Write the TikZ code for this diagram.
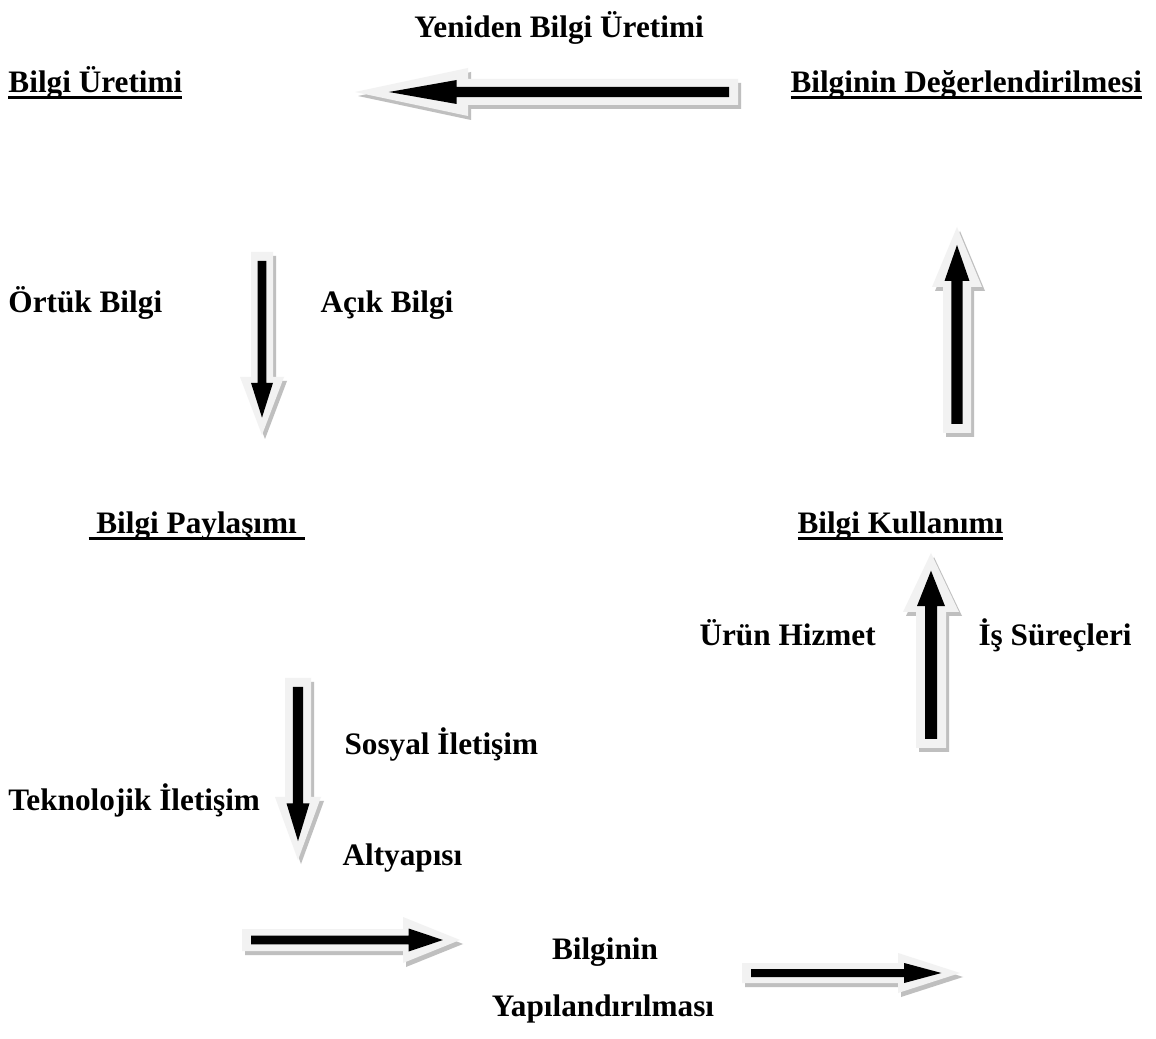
\documentclass[tikz,border=0pt]{standalone}
\usepackage{fontspec}
\setmainfont{Liberation Serif}
\usetikzlibrary{calc}
\definecolor{arrowface}{HTML}{F2F2F2}
\definecolor{arrowshadow}{HTML}{BFBFBF}

% underlined heading
\newcommand{\headul}[1]{\setbox0\hbox{#1}\rlap{\rule[-2.6pt]{\wd0}{1.2pt}}\box0}

% one filled block arrow: colour, tail, tip, half shaft, half head, head length
\newcommand{\arrowpath}[6]{%
  \coordinate (hb) at ($(#3)!#6!(#2)$);
  \fill[#1] ($(#2)!#4!90:(#3)$) -- ($(hb)!#4!90:(#3)$) -- ($(hb)!#5!90:(#3)$) -- (#3)
    -- ($(hb)!#5!-90:(#3)$) -- ($(hb)!#4!-90:(#3)$) -- ($(#2)!#4!-90:(#3)$) -- cycle;
}

% shadow, light arrow and black arrow from (#1-t) to (#1-h), sizes in px
\newcommand{\blockarrow}[4]{%
  \begin{scope}[transform canvas={shift={(1.2pt,-1.6pt)}}]
    \arrowpath{arrowshadow}{#1-t}{#1-h}{#2*0.4pt}{#3*0.4pt}{#4*0.4pt}
  \end{scope}
  \arrowpath{arrowface}{#1-t}{#1-h}{#2*0.4pt}{#3*0.4pt}{#4*0.4pt}
  \coordinate (#1-bt) at ($(#1-t)!3.6pt!(#1-h)$);
  \coordinate (#1-bh) at ($(#1-h)!#4*0.12pt!(#1-t)$);
  \arrowpath{black}{#1-bt}{#1-bh}{#2*0.16pt}{#3*0.2pt}{#4*0.24pt}
}

\begin{document}
\begin{tikzpicture}[x=0.4pt,y=-0.4pt]
      \tikzset{lbl/.style={anchor=base west, inner sep=0pt,
      font=\bfseries\fontsize{12.5}{15}\selectfont}}
      \fill [white] (0,0) rectangle (1156,1039);
      \useasboundingbox (0,0) rectangle (1156,1039);
      % arrows
      \coordinate (ust-t) at (738,92);
      \coordinate (ust-h) at (355,92);
      \coordinate (ortuk-t) at (262,252);
      \coordinate (ortuk-h) at (262,435);
      \coordinate (iletisim-t) at (298,678);
      \coordinate (iletisim-h) at (298,860);
      \coordinate (yapi-t) at (242,940);
      \coordinate (yapi-h) at (460,940);
      \coordinate (yapison-t) at (742,973);
      \coordinate (yapison-h) at (960,973);
      \coordinate (surec-t) at (931,748);
      \coordinate (surec-h) at (931,553);
      \coordinate (deger-t) at (957,433);
      \coordinate (deger-h) at (957,227);
      \blockarrow{ust}{13}{24}{113}
      \blockarrow{ortuk}{11}{22}{58}
      \blockarrow{iletisim}{13}{23}{63}
      \blockarrow{yapi}{11}{23}{57}
      \blockarrow{yapison}{10}{20}{62}
      \blockarrow{surec}{15}{28}{59}
      \blockarrow{deger}{14}{25}{60}
      % texts
      \node [lbl, anchor=base] (yeniden) at (559,38) {Yeniden Bilgi Üretimi};
      \node [lbl] (uretim) at (8,93) {\headul{Bilgi Üretimi}};
      \node [lbl] (degerlendirme) at (790,93) {\headul{Bilginin Değerlendirilmesi}};
      \node [lbl] (ortuk) at (8,313) {Örtük Bilgi};
      \node [lbl] (acik) at (320,313) {Açık Bilgi};
      \node [lbl] (paylasim) at (88,534) {\headul{\ Bilgi Paylaşımı\ }};
      \node [lbl] (kullanim) at (797,534) {\headul{Bilgi Kullanımı}};
      \node [lbl] (urun) at (699,646) {Ürün Hizmet};
      \node [lbl] (isler) at (978,646) {İş Süreçleri};
      \node [lbl] (sosyal) at (344,755) {Sosyal İletişim};
      \node [lbl] (teknolojik) at (8,810) {Teknolojik İletişim};
      \node [lbl] (altyapi) at (342,865) {Altyapısı};
      \node [lbl, anchor=base] (bilginin) at (605,960) {Bilginin};
      \node [lbl, anchor=base] (yapilandirma) at (603,1017) {Yapılandırılması};
\end{tikzpicture}
\end{document}
